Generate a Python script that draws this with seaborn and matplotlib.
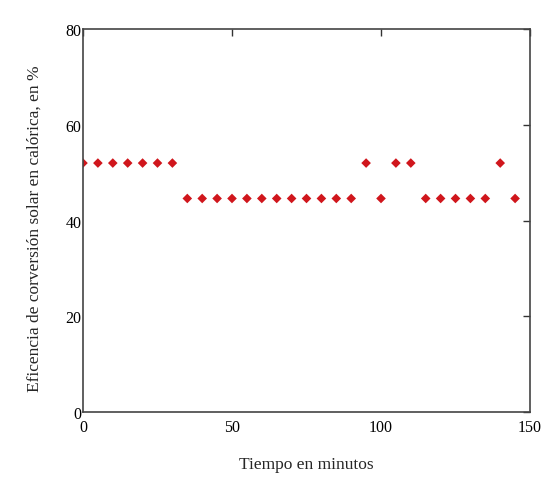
import matplotlib
matplotlib.use("Agg")
import matplotlib.pyplot as plt
import seaborn as sns
import pandas as pd

# time in minutes and solar-to-heat conversion efficiency (%)
tiempo = [0, 5, 10, 15, 20, 25, 30, 35, 40, 45, 50, 55, 60, 65, 70, 75, 80, 85, 90,
          95, 100, 105, 110, 115, 120, 125, 130, 135, 140, 145]
eficiencia = [52.0, 52.0, 52.0, 52.0, 52.0, 52.0, 52.0,
              44.6, 44.6, 44.6, 44.6, 44.6, 44.6, 44.6, 44.6, 44.6, 44.6, 44.6, 44.6,
              52.0, 44.6, 52.0, 52.0,
              44.6, 44.6, 44.6, 44.6, 44.6, 52.0, 44.6]

df = pd.DataFrame({"tiempo": tiempo, "eficiencia": eficiencia})

sns.set_style("white")
plt.rcParams["font.family"] = ["Liberation Serif", "DejaVu Serif"]

fig = plt.figure(figsize=(5.54, 4.81), dpi=100)
ax = fig.add_axes([0.1498, 0.1414, 0.8069, 0.7962])

sns.scatterplot(data=df, x="tiempo", y="eficiencia", ax=ax, marker="D",
                color="#d0161c", s=24, edgecolor="none", legend=False)

ax.set_xlim(0, 150)
ax.set_ylim(0, 80)
ax.set_xticks([0, 50, 100, 150])
ax.set_yticks([0, 20, 40, 60, 80])
ax.tick_params(direction="in", length=5, width=1, colors="#333333",
               top=True, right=True, labelsize=11.5, labelcolor="black")
ax.tick_params(axis="y", pad=1)
ax.tick_params(axis="x", pad=5)
for s in ax.spines.values():
    s.set_color("#444444")
    s.set_linewidth(1.2)

ax.set_xlabel("Tiempo en minutos", fontsize=12.5)
ax.set_ylabel("Eficencia de corversión solar en calórica, en %", fontsize=12.5)
ax.xaxis.set_label_coords(0.5, -0.115)
ax.yaxis.set_label_coords(-0.09, 0.48)

plt.savefig("out.png", dpi=100)
